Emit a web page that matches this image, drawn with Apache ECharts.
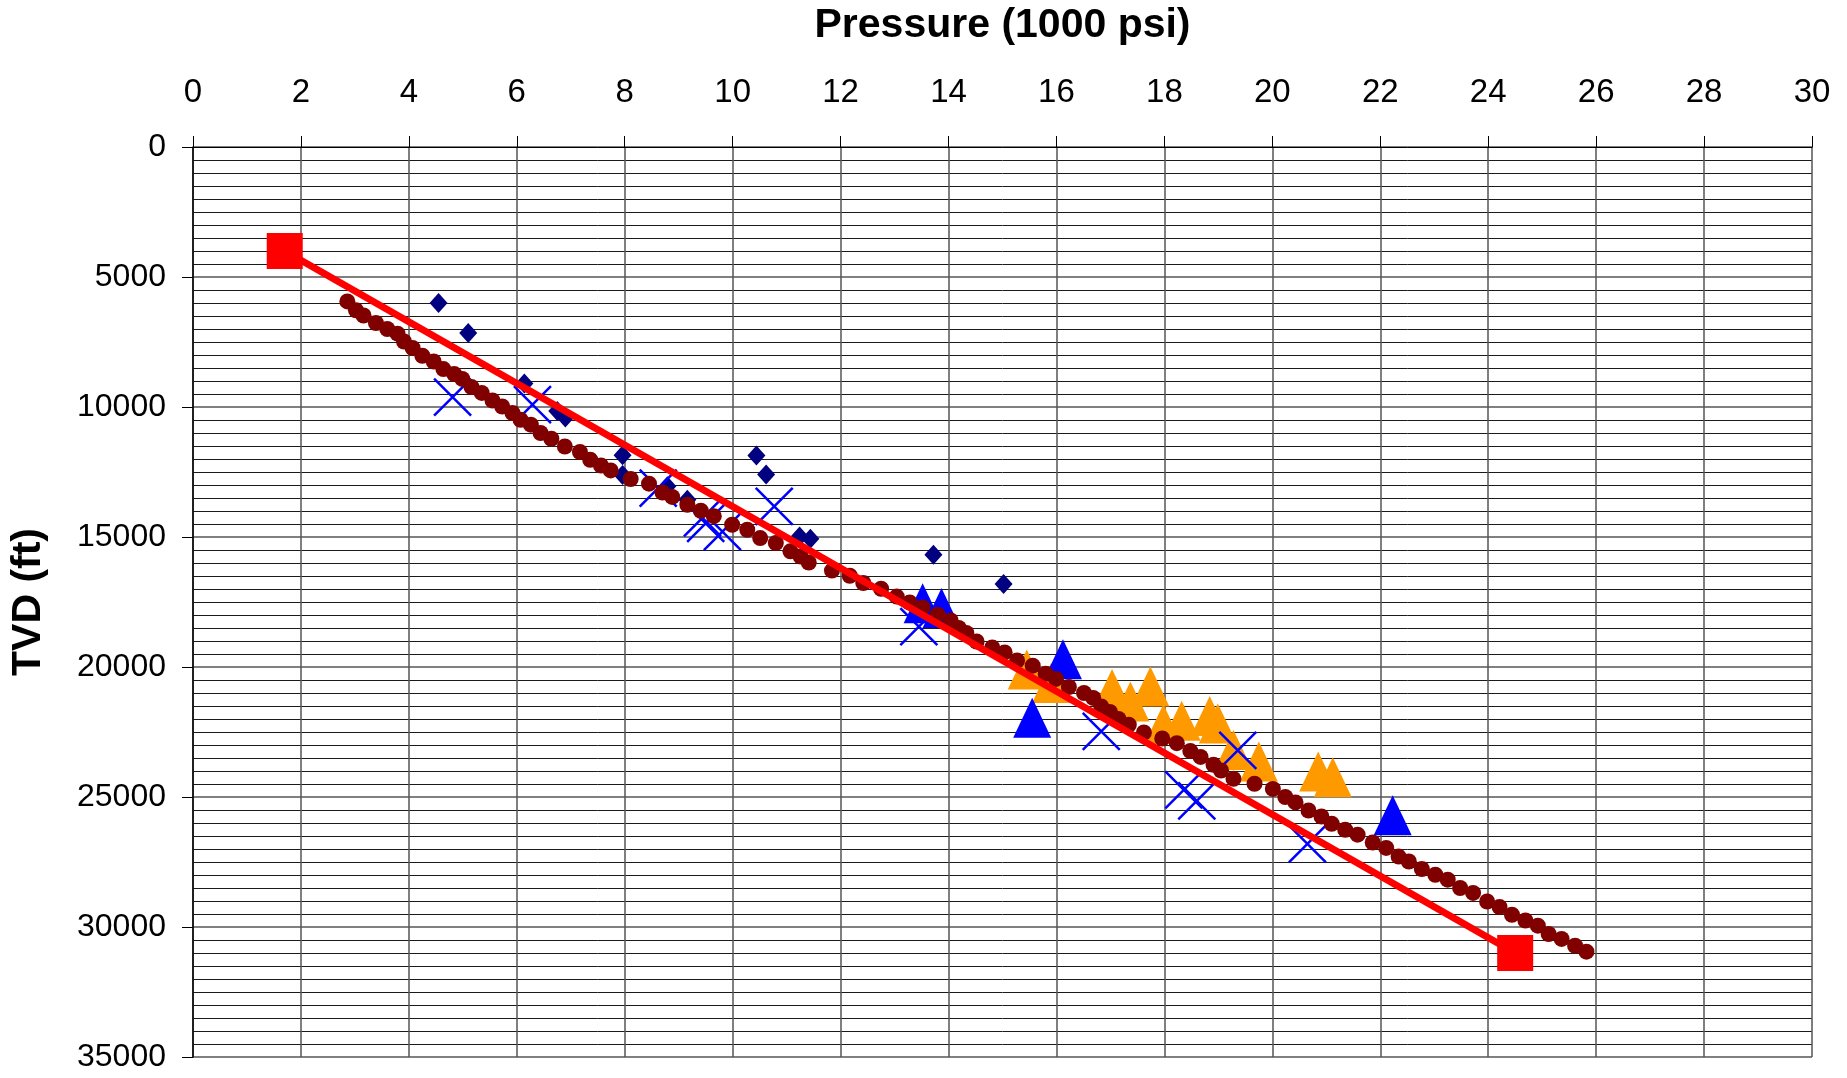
<!DOCTYPE html>
<html>
<head>
<meta charset="utf-8">
<title>Pressure vs TVD</title>
<script src="https://cdn.jsdelivr.net/npm/echarts@6/dist/echarts.min.js"></script>
<style>
  html, body { margin: 0; padding: 0; background: #fff; }
  #chart { width: 1847px; height: 1078px; }
</style>
</head>
<body>
<div id="chart"></div>
<script>
// Pressure in 1000 psi, depth (TVD) in ft: [pressure, depth]
const redTrend = [[1.7, 4000], [24.5, 31000]];

const maroonProfile = [
  [2.86, 5940], [3.02, 6280], [3.16, 6480], [3.39, 6770], [3.60, 7000],
  [3.79, 7180], [3.91, 7480], [4.07, 7730], [4.25, 8030], [4.46, 8250],
  [4.64, 8540], [4.84, 8730], [4.99, 8920], [5.16, 9230], [5.35, 9460],
  [5.55, 9750], [5.73, 9980], [5.92, 10230], [6.07, 10490], [6.26, 10680],
  [6.44, 11000], [6.64, 11220], [6.89, 11520], [7.17, 11730], [7.36, 12030],
  [7.56, 12250], [7.74, 12440], [8.11, 12770], [8.45, 12950], [8.70, 13290],
  [8.88, 13460], [9.16, 13760], [9.41, 13990], [9.65, 14200], [9.99, 14530],
  [10.27, 14720], [10.51, 15040], [10.80, 15230], [11.07, 15550], [11.26, 15750],
  [11.41, 15980], [11.84, 16290], [12.17, 16490], [12.42, 16770], [12.75, 16990],
  [13.04, 17290], [13.28, 17520], [13.52, 17710], [13.80, 17990], [14.04, 18210],
  [14.19, 18500], [14.33, 18690], [14.52, 19020], [14.81, 19250], [15.04, 19440],
  [15.27, 19750], [15.56, 19950], [15.80, 20260], [15.99, 20460], [16.23, 20770],
  [16.51, 21000], [16.68, 21190], [16.83, 21520], [16.99, 21730], [17.15, 22000],
  [17.34, 22220], [17.62, 22520], [17.96, 22750], [18.23, 22930], [18.48, 23230],
  [18.67, 23460], [18.91, 23760], [19.05, 23980], [19.28, 24300], [19.67, 24490],
  [20.01, 24690], [20.24, 25000], [20.43, 25210], [20.67, 25520], [20.91, 25750],
  [21.10, 26030], [21.35, 26260], [21.58, 26450], [21.86, 26750], [22.11, 26960],
  [22.34, 27290], [22.53, 27480], [22.77, 27770], [23.02, 27990], [23.25, 28180],
  [23.48, 28500], [23.72, 28690], [23.98, 29020], [24.21, 29230], [24.44, 29530],
  [24.69, 29750], [24.92, 29950], [25.12, 30270], [25.36, 30460], [25.61, 30720],
  [25.82, 30950]
];

const navyDiamonds = [
  [4.55, 6000], [5.1, 7150], [6.14, 9100], [6.75, 10150], [6.9, 10400],
  [7.96, 11860], [7.96, 12620], [8.79, 13050], [9.16, 13570], [10.44, 11870],
  [10.62, 12600], [11.24, 14980], [11.44, 15070], [13.72, 15680], [15.02, 16810]
];

const blueCrosses = [
  [4.81, 9620], [6.29, 9910], [8.62, 13120], [9.44, 14260], [9.5, 14480],
  [9.81, 14790], [10.77, 13820], [13.45, 18450], [16.83, 22480], [18.36, 24730],
  [18.6, 25150], [19.36, 23210], [20.65, 26800]
];

const blueTriangles = [
  [13.52, 17550], [13.87, 17730], [16.12, 19700], [15.55, 21950], [22.23, 25700]
];

const orangeTriangles = [
  [15.45, 20100], [15.9, 20620], [17.03, 20850], [17.37, 21330], [17.74, 20750],
  [17.98, 22200], [18.32, 22070], [18.84, 21880], [18.99, 22170], [19.28, 23190],
  [19.75, 23630], [20.85, 24020], [21.12, 24240]
];

const FONT = '"Liberation Sans", Arial, sans-serif';

const chart = echarts.init(document.getElementById('chart'), null, { renderer: 'canvas' });

chart.setOption({
  animation: false,
  backgroundColor: '#ffffff',
  textStyle: { fontFamily: FONT },
  grid: { left: 192, right: 35, top: 147, bottom: 21, containLabel: false },
  xAxis: {
    type: 'value',
    position: 'top',
    min: 0,
    max: 30,
    interval: 2,
    name: 'Pressure (1000 psi)',
    nameLocation: 'middle',
    nameGap: 101,
    nameTextStyle: { fontFamily: FONT, fontSize: 41, fontWeight: 'bold', color: '#000' },
    axisLine: { show: true, onZero: false, lineStyle: { color: '#000', width: 1 } },
    axisTick: { show: true, inside: false, length: 11, lineStyle: { color: '#000', width: 1 } },
    axisLabel: { fontFamily: FONT, fontSize: 33, color: '#000', margin: 38 },
    splitLine: { show: true, lineStyle: { color: '#555', width: 1.5 } }
  },
  yAxis: {
    type: 'value',
    inverse: true,
    min: 0,
    max: 35000,
    interval: 5000,
    name: 'TVD (ft)',
    nameLocation: 'middle',
    nameGap: 144,
    nameTextStyle: { fontFamily: FONT, fontSize: 41, fontWeight: 'bold', color: '#000' },
    axisLine: { show: true, onZero: false, lineStyle: { color: '#000', width: 1.5 } },
    axisTick: { show: true, inside: false, length: 11, lineStyle: { color: '#000', width: 1 } },
    axisLabel: {
      fontFamily: FONT, fontSize: 32, color: '#000', margin: 27,
      formatter: function (v) { return String(v); }
    },
    splitLine: { show: true, lineStyle: { color: '#808080', width: 2 } },
    minorTick: { show: false, splitNumber: 10 },
    minorSplitLine: { show: true, lineStyle: { color: '#1a1a1a', width: 1 } }
  },
  series: [
    {
      type: 'line',
      data: redTrend,
      symbol: 'rect',
      symbolSize: 36,
      lineStyle: { color: '#FF0000', width: 7 },
      itemStyle: { color: '#FF0000' }
    },
    {
      type: 'scatter',
      data: navyDiamonds,
      symbol: 'diamond',
      symbolSize: [18, 20],
      itemStyle: { color: '#000080', opacity: 1 }
    },
    {
      type: 'scatter',
      data: orangeTriangles,
      symbol: 'triangle',
      symbolSize: [38, 40],
      itemStyle: { color: '#FF9900', opacity: 1 }
    },
    {
      type: 'scatter',
      data: blueTriangles,
      symbol: 'triangle',
      symbolSize: [38, 40],
      itemStyle: { color: '#0000FF', opacity: 1 }
    },
    {
      type: 'scatter',
      data: blueCrosses,
      symbol: 'path://M0,0L10,10M10,0L0,10',
      symbolSize: 37,
      itemStyle: { color: 'rgba(0,0,0,0)', borderColor: '#0000FF', borderWidth: 2.5, opacity: 1 }
    },
    {
      type: 'scatter',
      data: maroonProfile,
      symbol: 'circle',
      symbolSize: 16,
      itemStyle: { color: '#800000', opacity: 1 }
    }
  ]
});
</script>
</body>
</html>
